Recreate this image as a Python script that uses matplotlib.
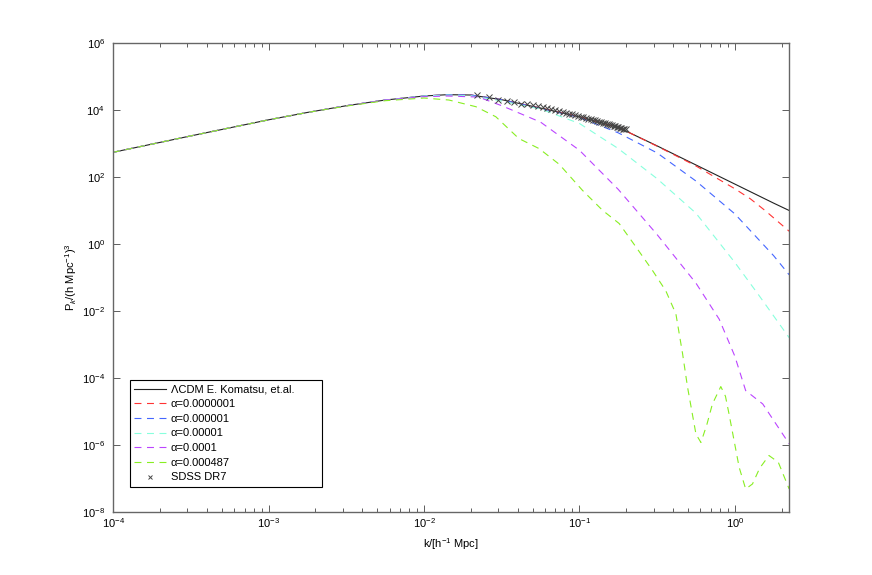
import matplotlib
matplotlib.use("Agg")
import matplotlib.pyplot as plt
import numpy as np
from matplotlib.ticker import LogLocator, NullLocator

plt.rcParams['font.family'] = ['Liberation Sans', 'DejaVu Sans']
plt.rcParams['mathtext.fontset'] = 'custom'
plt.rcParams['mathtext.rm'] = 'Liberation Sans'
plt.rcParams['mathtext.it'] = 'Liberation Sans:italic'
plt.rcParams['lines.scale_dashes'] = False

# values, as log10(k) and log10(P)
lcdm_logk = [-4.0, -3.5, -3.0, -2.75, -2.5, -2.25, -2.0, -1.85, -1.7, -1.5, -1.25, -1.0,
             -0.75, -0.69, -0.5, -0.25, 0.0, 0.25, 0.35]
lcdm_logp = [2.74, 3.23, 3.71, 3.93, 4.13, 4.30, 4.42, 4.46, 4.45, 4.31, 4.06, 3.80,
             3.48, 3.35, 2.93, 2.36, 1.79, 1.22, 1.00]

a1_logk = [-4.0, -3.5, -3.0, -2.75, -2.5, -2.25, -2.0, -1.85, -1.7, -1.5, -1.25, -1.0,
           -0.75, -0.69, -0.5, -0.3, -0.25, 0.0, 0.1, 0.2, 0.35]
a1_logp = [2.74, 3.23, 3.71, 3.93, 4.13, 4.30, 4.42, 4.46, 4.45, 4.31, 4.06, 3.80,
           3.48, 3.35, 2.92, 2.45, 2.33, 1.65, 1.35, 0.98, 0.38]

a2_logk = [-4.0, -3.5, -3.0, -2.75, -2.5, -2.25, -2.0, -1.85, -1.7, -1.5, -1.25, -1.0,
           -0.75, -0.5, -0.25, 0.0, 0.25, 0.35]
a2_logp = [2.74, 3.23, 3.71, 3.93, 4.13, 4.30, 4.42, 4.46, 4.45, 4.31, 4.05, 3.78,
           3.32, 2.72, 1.88, 0.90, -0.35, -0.92]

a3_logk = [-4.0, -3.5, -3.0, -2.75, -2.5, -2.25, -2.0, -1.85, -1.7, -1.5, -1.25, -1.0,
           -0.75, -0.5, -0.25, 0.0, 0.15, 0.35]
a3_logp = [2.74, 3.23, 3.71, 3.93, 4.13, 4.30, 4.42, 4.45, 4.43, 4.27, 4.03, 3.60,
           2.85, 1.95, 0.92, -0.55, -1.50, -2.80]

a4_logk = [-4.0, -3.5, -3.0, -2.75, -2.5, -2.25, -2.0, -1.85, -1.65, -1.5, -1.25, -1.0,
           -0.75, -0.5, -0.25, -0.1, 0.0, 0.07, 0.18, 0.35]
a4_logp = [2.74, 3.23, 3.71, 3.93, 4.13, 4.30, 4.40, 4.42, 4.39, 4.13, 3.64, 2.80,
           1.63, 0.28, -1.17, -2.25, -3.35, -4.38, -4.78, -5.97]

a5_logk = [-4.0, -3.5, -3.0, -2.75, -2.5, -2.25, -2.0, -1.84, -1.666, -1.538, -1.39,
           -1.26, -1.13, -0.98, -0.85, -0.744, -0.636, -0.53, -0.444, -0.379, -0.336,
           -0.304, -0.25, -0.218, -0.18, -0.144, -0.09, -0.06, -0.037, 0.028, 0.07,
           0.114, 0.16, 0.22, 0.28, 0.35]
a5_logp = [2.74, 3.23, 3.71, 3.93, 4.12, 4.28, 4.36, 4.30, 4.10, 3.80, 3.15,
           2.85, 2.38, 1.60, 1.00, 0.61, -0.09, -0.79, -1.40, -2.09, -3.28,
           -4.28, -5.68, -5.93, -5.40, -4.78, -4.26, -4.55, -5.08, -6.67, -7.32,
           -7.17, -6.70, -6.32, -6.52, -7.32]

sdss_k = [0.022, 0.026, 0.030, 0.034, 0.038, 0.042, 0.046, 0.050, 0.054, 0.058, 0.062,
          0.066, 0.070, 0.074, 0.078, 0.082, 0.086, 0.090, 0.094, 0.098, 0.102, 0.106,
          0.110, 0.114, 0.118, 0.122, 0.126, 0.130, 0.134, 0.138, 0.142, 0.146, 0.150,
          0.154, 0.158, 0.162, 0.166, 0.170, 0.174, 0.178, 0.182, 0.186, 0.190, 0.194,
          0.198]
sdss_p = [27500, 24500, 20000, 18600, 17000, 14800, 15500, 14100, 12900, 12000, 11500,
          10700, 9800, 9300, 8900, 8100, 7800, 7400, 6900, 6600, 6300, 6000,
          5700, 5500, 5300, 5100, 4900, 4700, 4500, 4350, 4200, 4050, 3900,
          3800, 3650, 3550, 3400, 3300, 3200, 3100, 3000, 2900, 2800, 2750,
          2650]

labels = ['ΛCDM E. Komatsu, et.al.', 'α=0.0000001', 'α=0.000001',
          'α=0.00001', 'α=0.0001', 'α=0.000487', 'SDSS DR7']
colors = ['#222222', '#ff3333', '#4466ff', '#88ffdd', '#bb44ff', '#88ee22']

fig = plt.figure(figsize=(8.72, 5.75), dpi=100)
ax = fig.add_axes([0.13, 0.11, 0.775, 0.815])

dash = (5.0, 4.0)
ax.plot(10**np.array(lcdm_logk), 10**np.array(lcdm_logp), '-', color=colors[0], lw=0.8, label=labels[0])
series = [(a1_logk, a1_logp), (a2_logk, a2_logp), (a3_logk, a3_logp),
          (a4_logk, a4_logp), (a5_logk, a5_logp)]
for i, (lk, lp) in enumerate(series):
    ax.plot(10**np.array(lk), 10**np.array(lp), '--', dashes=dash, color=colors[i + 1],
            lw=0.8, label=labels[i + 1])
ax.plot(sdss_k, sdss_p, 'x', color='#444444', ms=4.5, mew=0.7, label=labels[6])

ax.set_xscale('log')
ax.set_yscale('log')
ax.set_xlim(1e-4, 10**0.35)
ax.set_ylim(1e-8, 1e6)
ax.set_yticks([10.0**e for e in range(-8, 7, 2)])
ax.yaxis.set_minor_locator(NullLocator())
ax.xaxis.set_major_locator(LogLocator(base=10, numticks=10))
ax.xaxis.set_minor_locator(LogLocator(base=10, subs=np.arange(2, 10), numticks=20))
ax.tick_params(which='both', direction='in', top=True, right=True, labelsize=8,
               colors='#444444', labelcolor='black')
ax.tick_params(which='major', length=5, width=0.6)
ax.tick_params(axis='y', pad=6)
ax.tick_params(which='minor', length=3, width=0.6)
for s in ax.spines.values():
    s.set_color('#666666')
    s.set_linewidth(1.0)

ax.set_xlabel(r'k/[h$^{-1}$ Mpc]', fontsize=8)
ax.set_ylabel(r'P$_k$/(h Mpc$^{-1}$)$^3$', fontsize=8, labelpad=2)

leg = ax.legend(loc='lower left', bbox_to_anchor=(0.024, 0.053, 0.284, 0.235),
                mode='expand', fontsize=8, fancybox=False, framealpha=1,
                edgecolor='black', handlelength=2.9, handletextpad=0.4,
                borderaxespad=0, borderpad=0.4, labelspacing=0.42, markerscale=0.75)
leg.get_frame().set_linewidth(0.8)

fig.savefig('out.png', dpi=100)
